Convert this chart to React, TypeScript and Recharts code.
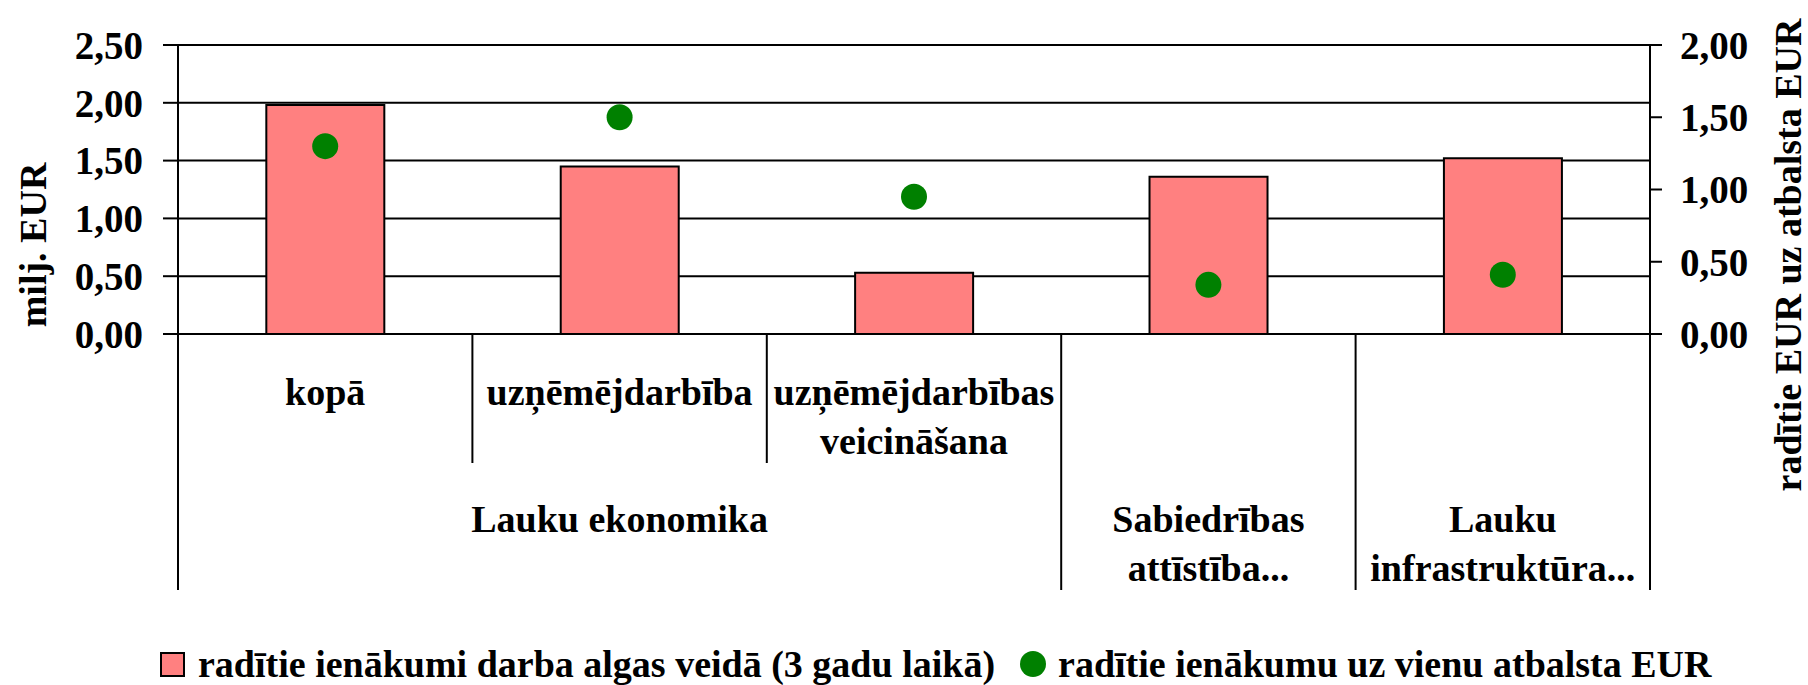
import React from "react";
import { Bar, CartesianGrid, ComposedChart, Legend, Line, XAxis, YAxis } from "recharts";

const categories = ["kopā", "uzņēmējdarbība", "uzņēmējdarbības veicināšana", "Sabiedrības attīstība", "Lauku infrastruktūra"];
const subLabels = [["kopā"], ["uzņēmējdarbība"], ["uzņēmējdarbības", "veicināšana"], [], []];
const groupNames = [["Lauku ekonomika"], ["Sabiedrības", "attīstība..."], ["Lauku", "infrastruktūra..."]];
const groupStarts = [0, 3, 4];
const groupSizes = [3, 1, 1];
const wages = [1.98, 1.45, 0.53, 1.36, 1.52];
const perEuro = [1.3, 1.5, 0.95, 0.34, 0.41];
const leftTicks = [0, 0.5, 1, 1.5, 2, 2.5];
const rightTicks = [0, 0.5, 1, 1.5, 2];
const seriesNames = ["radītie ienākumi darba algas veidā (3 gadu laikā)", "radītie ienākumu uz vienu atbalsta EUR"];

const data = categories.map((cat, i) => ({ cat, wages: wages[i], perEuro: perEuro[i] }));

const FONT = "Liberation Serif, DejaVu Serif, Times New Roman, serif";
const textStyle = { fontFamily: FONT, fontWeight: 700, fontSize: 38, fill: "#000" };
const fmt = (v: number) => v.toFixed(2).replace(".", ",");

function CategoryTick(props: any) {
  const { x, y, index, width, visibleTicksCount } = props;
  const count = visibleTicksCount || categories.length;
  const band = (width || 1472) / count;
  const left = x - band / 2;
  const g = groupStarts.indexOf(index);
  return (
    <g>
      <line x1={left} x2={left} y1={y} y2={y + (g >= 0 ? 256 : 129)} stroke="#000" strokeWidth={2} />
      {index === count - 1 && (
        <line x1={left + band} x2={left + band} y1={y} y2={y + 256} stroke="#000" strokeWidth={2} />
      )}
      {subLabels[index].map((t, i) => (
        <text key={t} x={x} y={y + 71 + i * 49} textAnchor="middle" fontFamily={FONT} fontWeight={700} fontSize={38} fill="#000">
          {t}
        </text>
      ))}
      {g >= 0 &&
        groupNames[g].map((t, i) => (
          <text key={t} x={left + (groupSizes[g] * band) / 2} y={y + 198 + i * 49} textAnchor="middle" fontFamily={FONT} fontWeight={700} fontSize={38} fill="#000">
            {t}
          </text>
        ))}
    </g>
  );
}

function AxisTitle({ viewBox, text, dx, dy }: any) {
  const cx = viewBox.x + dx;
  const cy = viewBox.y + dy;
  return (
    <text x={cx} y={cy} transform={`rotate(-90 ${cx} ${cy})`} textAnchor="middle" dominantBaseline="central" fontFamily={FONT} fontWeight={700} fontSize={38} fill="#000">
      {text}
    </text>
  );
}

function ChartLegend() {
  return (
    <div style={{ display: "flex", alignItems: "center", paddingLeft: 160, fontFamily: FONT, fontWeight: 700, fontSize: 38, lineHeight: "38px", color: "#000", whiteSpace: "pre" }}>
      <span style={{ width: 21, height: 21, background: "#FF8080", border: "2px solid #000", marginRight: 13 }} />
      <span>{seriesNames[0]}</span>
      <span style={{ width: 26, height: 26, borderRadius: 13, background: "#008000", marginLeft: 25, marginRight: 12 }} />
      <span>{seriesNames[1]}</span>
    </div>
  );
}

export default function App() {
  return (
    <div style={{ fontFamily: FONT }}>
      <style>{"body{margin:0;background:#fff}"}</style>
      <ComposedChart width={1808} height={685} data={data} margin={{ top: 45, right: 0, bottom: 0, left: 0 }} barCategoryGap="30%">
        <CartesianGrid yAxisId="left" vertical={false} stroke="#000" strokeWidth={2} />
        <XAxis dataKey="cat" height={351} tickLine={false} tickSize={0} tickMargin={0} axisLine={{ stroke: "#000", strokeWidth: 2 }} tick={<CategoryTick />} interval={0} />
        <YAxis
          yAxisId="left"
          width={178}
          domain={[0, 2.5]}
          ticks={leftTicks}
          tickFormatter={fmt}
          tickSize={15}
          tickMargin={20}
          tickLine={{ stroke: "#000", strokeWidth: 2 }}
          axisLine={{ stroke: "#000", strokeWidth: 2 }}
          tick={{ ...textStyle, fontSize: 39 }}
          label={<AxisTitle text="milj. EUR" dx={33} dy={200} />}
        />
        <YAxis
          yAxisId="right"
          orientation="right"
          width={158}
          domain={[0, 2]}
          ticks={rightTicks}
          tickFormatter={fmt}
          tickSize={12}
          tickMargin={18}
          tickLine={{ stroke: "#000", strokeWidth: 2 }}
          axisLine={{ stroke: "#000", strokeWidth: 2 }}
          tick={{ ...textStyle, fontSize: 39 }}
          label={<AxisTitle text="radītie EUR uz atbalsta EUR" dx={138} dy={210} />}
        />
        <Bar yAxisId="left" dataKey="wages" name={seriesNames[0]} fill="#FF8080" stroke="#000" strokeWidth={2} isAnimationActive={false} />
        <Line
          yAxisId="right"
          dataKey="perEuro"
          name={seriesNames[1]}
          stroke="none"
          dot={{ r: 13, fill: "#008000", stroke: "none" }}
          activeDot={false}
          isAnimationActive={false}
        />
        <Legend layout="horizontal" verticalAlign="middle" align="center" wrapperStyle={{ left: 0, top: 645, width: 1808 }} content={() => <ChartLegend />} />
      </ComposedChart>
    </div>
  );
}
